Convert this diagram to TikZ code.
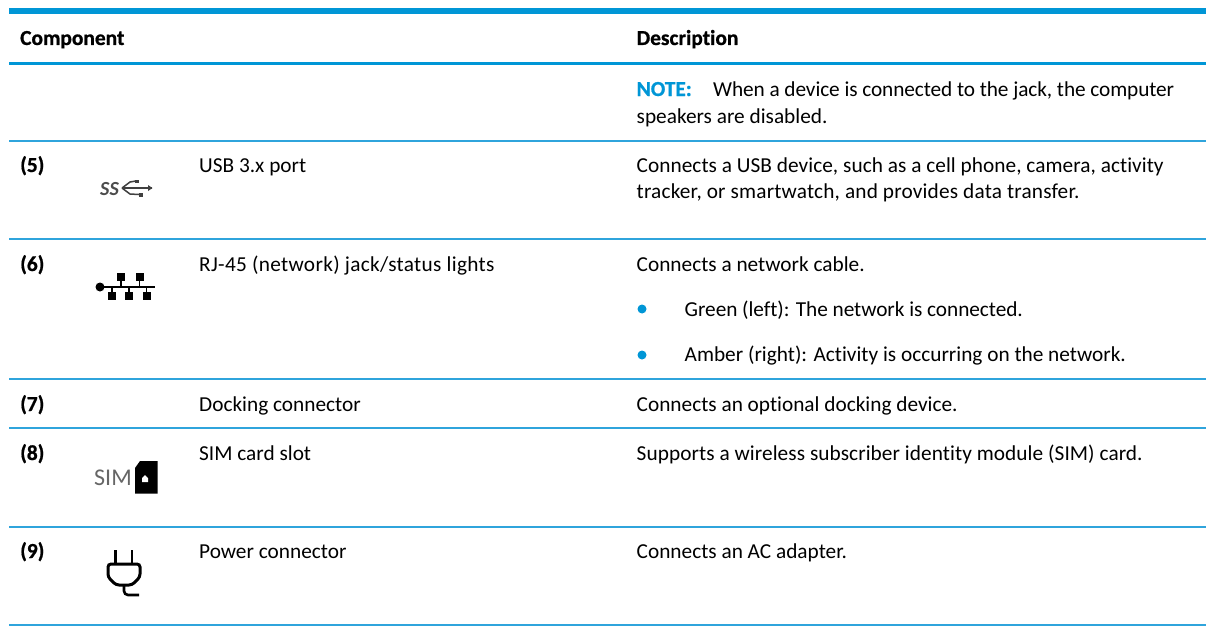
\documentclass[tikz,border=0pt]{standalone}
\usepackage{fontspec}
\setmainfont{Carlito}[Ligatures=NoCommon,BoldFeatures={FakeBold=0.8}]
\definecolor{hpblue}{HTML}{0096D6}
\definecolor{rule}{HTML}{2FA4DC}
\newcommand{\lsp}[1]{\addfontfeature{LetterSpace=#1}}
\tikzset{x=1pt,y=-1pt,
 txt/.style={anchor=base west,inner sep=0pt,font=\fontsize{21.3}{24}\selectfont,text=black},
 hd/.style={txt,font=\fontsize{21.4}{24}\selectfont\bfseries},
 sep/.style={draw=rule,line width=1.3pt},
 icon/.style={draw=black,line width=1.4pt}}
\begin{document}
\begin{tikzpicture}
\useasboundingbox (0,0) rectangle (1206,626);
\fill[white] (0,0) rectangle (1206,626);
\fill[hpblue] (9,8) rectangle (1206,14);
\fill[hpblue] (9,62) rectangle (1206,65);
\foreach \y in {141,239,379,428,527,625} \draw[sep] (9,\y) -- (1206,\y);
\node[hd] (h1) at (20,45) {Component};
\node[hd] (h2) at (636.5,45) {Description};
\node[hd,text=hpblue] (nt) at (636.5,96) {NOTE:};
\node[txt] (n1) at (713,96) {\lsp{-0.45}When a device is connected to the jack, the computer};
\node[txt] (n2) at (636.5,123) {speakers are disabled.};
\node[hd] (a5) at (20,172) {(5)};
\node[txt] (b5) at (199,172) {USB 3.x port};
\node[txt] (c5) at (636.5,172.5) {\lsp{0.2}Connects a USB device, such as a cell phone, camera, activity};
\node[txt] (d5) at (636.5,198.5) {\lsp{0.85}tracker, or smartwatch, and provides data transfer.};
\node[hd] (a6) at (20,271) {(6)};
\node[txt] (b6) at (199,271) {\lsp{1.5}RJ-45 (network) jack/status lights};
\node[txt] (c6) at (636.5,271) {Connects a network cable.};
\node[txt] (d6) at (684.5,316) {\lsp{-0.25}Green (left): The network is connected.};
\node[txt] (e6) at (684.5,361) {Amber (right): Activity is occurring on the network.};
\fill[hpblue] (642,309) circle (4.5);
\fill[hpblue] (642,355) circle (4.5);
\node[hd] (a7) at (20,411) {(7)};
\node[txt] (b7) at (199,411) {Docking connector};
\node[txt] (c7) at (636.5,411) {Connects an optional docking device.};
\node[hd] (a8) at (20,460) {(8)};
\node[txt] (b8) at (199,460) {SIM card slot};
\node[txt] (c8) at (636.5,460) {\lsp{0.33}Supports a wireless subscriber identity module (SIM) card.};
\node[hd] (a9) at (20,558) {(9)};
\node[txt] (b9) at (199,558) {Power connector};
\node[txt] (c9) at (636.5,558) {Connects an AC adapter.};
% USB icon
\node[anchor=base west,inner sep=0pt,font=\fontsize{20}{20}\selectfont\itshape\bfseries,text=black!70] (ss) at (100,195) {SS};
\draw[black!75,line width=1.5pt] (122,188) -- (152,188);
\draw[black!75,line width=1.5pt] (122,188) -- (130,182) -- (136,181);
\draw[black!75,line width=1.5pt] (122,188) -- (130,194) -- (139,194.5);
\fill[black!75] (135,179.5) rectangle (139,182.5);
\fill[black!75] (139,192.5) rectangle (143,197);
\fill[black!75] (148,185) -- (152.5,188) -- (148,191) -- cycle;
% network icon
\draw[icon] (100,287) -- (155,287);
\fill (100,287) circle (4.5);
\foreach \x in {121,139.5} {\fill (\x-4,273) rectangle (\x+4,281); \draw[icon] (\x,280) -- (\x,287);}
\foreach \x in {112,129,146.5} {\fill (\x-4,292) rectangle (\x+4,300); \draw[icon] (\x,287) -- (\x,293);}
% SIM icon
\node[anchor=base west,inner sep=0pt,font=\fontsize{24}{24}\selectfont,text=black!60] (sim) at (94,485) {SIM};
\fill (135,468) -- (140,461) -- (157.5,461) -- (157.5,493.5) -- (135,493.5) -- cycle;
\fill[white] (142,482) -- (142,478) -- (145,475) -- (148,478) -- (148,482) -- cycle;
% plug icon
\draw[line width=2.6pt] (115.5,550) -- (115.5,564) (132,550) -- (132,564);
\draw[line width=3pt,rounded corners=3pt] (108,564) -- (140,564) -- (140,577) -- (132,585) -- (116,585) -- (108,577) -- cycle;
\draw[line width=2.6pt,rounded corners=4pt] (124,585) -- (124,595) -- (139,595);
\end{tikzpicture}
\end{document}
